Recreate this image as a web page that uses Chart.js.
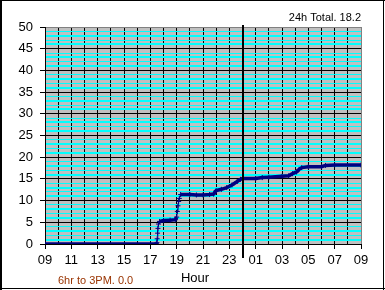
<!DOCTYPE html>
<html>
<head>
<meta charset="utf-8">
<script src="https://cdn.jsdelivr.net/npm/chart.js@4"></script>
<style>
  html, body { margin: 0; padding: 0; background: #fff; }
  canvas { display: block; }
</style>
</head>
<body>
<canvas id="rainChart" width="385" height="290"></canvas>
<script>
// hours counted from 09:00, rain total in mm
const hours = [0, 8.45, 8.5, 8.52, 8.55, 8.58, 8.62, 8.7, 9.0, 9.5, 9.9, 10.0, 10.05, 10.1, 10.15, 10.2, 10.3,
  11.0, 11.5, 12.0, 12.5, 12.8, 13.0, 13.4, 13.8, 14.2, 14.6, 14.85, 15.0, 16.0, 16.5, 17.0, 18.0, 18.5,
  18.8, 19.1, 19.3, 19.5, 20.0, 21.0, 21.3, 22.0, 24.0];
const rain = [0, 0, 0.3, 1.2, 2.5, 3.6, 4.6, 5.2, 5.4, 5.5, 5.6, 6.2, 7.5, 8.8, 9.8, 10.5, 11.4,
  11.4, 11.3, 11.3, 11.4, 11.5, 12.3, 12.6, 13.0, 13.6, 14.4, 14.9, 15.1, 15.1, 15.3, 15.4, 15.6, 15.7,
  16.2, 16.6, 17.2, 17.6, 17.8, 17.8, 18.1, 18.2, 18.2];
const hourLabels = ['09', '10', '11', '12', '13', '14', '15', '16', '17', '18', '19', '20', '21', '22', '23',
  '00', '01', '02', '03', '04', '05', '06', '07', '08', '09'];
const totalText = '24h Total. 18.2';
const dayText = '6hr to 3PM. 0.0';
const axisTitle = 'Hour';
const midnight = 15;

const fontFamily = '"Liberation Sans", Arial, sans-serif';

const frame = {
    id: 'frame',
    beforeDraw(chart) {
        const { ctx, chartArea: a } = chart;
        ctx.save();
        ctx.fillStyle = '#c0c0c0';
        ctx.fillRect(a.left, a.top, a.right - a.left, a.bottom - a.top);
        ctx.restore();
    },
    afterDraw(chart) {
        const { ctx } = chart;
        const x = Math.round(chart.scales.x.getPixelForValue(midnight));
        ctx.save();
        ctx.fillStyle = '#000';
        ctx.fillRect(x - 1, 25, 2, 233);

        // outer frame
        ctx.fillRect(0, 0, 2, 290);
        ctx.fillRect(0, 0, 385, 1);
        ctx.fillRect(383, 0, 1, 290);
        ctx.fillRect(0, 288, 385, 1);

        ctx.textBaseline = 'alphabetic';
        ctx.font = '11px ' + fontFamily;
        ctx.textAlign = 'right';
        ctx.fillText(totalText, 361, 21);

        ctx.font = '13px ' + fontFamily;
        ctx.textAlign = 'center';
        ctx.fillText(axisTitle, 195, 282);

        ctx.font = '11px ' + fontFamily;
        ctx.textAlign = 'left';
        ctx.fillStyle = '#993300';
        ctx.fillText(dayText, 58, 284);
        ctx.restore();
    }
};

new Chart(document.getElementById('rainChart'), {
    type: 'line',
    data: {
        datasets: [{
            data: hours.map((h, i) => ({ x: h, y: rain[i] })),
            borderColor: '#000080',
            backgroundColor: '#000080',
            borderWidth: 3.5,
            tension: 0,
            pointStyle: 'cross',
            pointRadius: 2.5,
            pointBorderWidth: 1,
            pointBorderColor: '#000080',
            segment: {
                borderWidth: s => Math.abs(s.p1.y - s.p0.y) > 2 * Math.abs(s.p1.x - s.p0.x) ? 1 : 3.5
            }
        }]
    },
    options: {
        responsive: false,
        animation: false,
        events: [],
        layout: { padding: { top: 27, right: 24, left: 0, bottom: 0 } },
        plugins: {
            legend: { display: false },
            tooltip: { enabled: false }
        },
        scales: {
            x: {
                type: 'linear',
                min: 0,
                max: 24,
                afterFit: s => { s.height = 46; },
                border: { color: '#000' },
                grid: {
                    color: c => c.tick.value === 24 ? '#808080' : '#000',
                    tickColor: c => c.tick.value % 2 === 0 ? '#000' : 'rgba(0,0,0,0)',
                    tickLength: 5,
                    lineWidth: 1
                },
                ticks: {
                    stepSize: 1,
                    autoSkip: false,
                    maxRotation: 0,
                    padding: 4,
                    color: '#000',
                    font: { family: fontFamily, size: 13 },
                    callback: v => v % 2 === 0 ? hourLabels[v] : ''
                }
            },
            y: {
                min: 0,
                max: 50,
                afterFit: s => { s.width = 45; },
                border: { color: '#000' },
                grid: {
                    color: c => {
                        const v = c.tick.value;
                        if (v === 50) return '#808080';
                        return v % 5 === 0 ? '#000' : '#00ffff';
                    },
                    lineWidth: c => {
                        const r = c.tick.value % 5;
                        return r === 1 || r === 3 ? 2 : 1;
                    },
                    tickColor: c => c.tick.value % 5 === 0 ? '#000' : 'rgba(0,0,0,0)',
                    tickLength: 5
                },
                ticks: {
                    stepSize: 1,
                    autoSkip: false,
                    padding: 7,
                    color: '#000',
                    font: { family: fontFamily, size: 13 },
                    callback: v => v % 5 === 0 ? String(v) : ''
                }
            }
        }
    },
    plugins: [frame]
});
</script>
</body>
</html>
